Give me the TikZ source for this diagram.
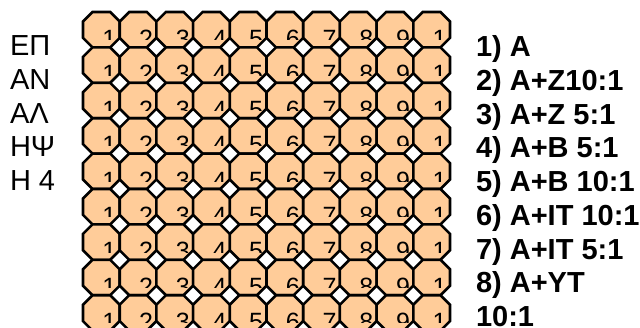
\documentclass[tikz,border=0pt]{standalone}
\usepackage{fontspec}
\setmainfont{Liberation Sans}
\usetikzlibrary{positioning,calc}
\definecolor{cellpeach}{RGB}{255,204,153}

\begin{document}
\begin{tikzpicture}[
  x=1pt,y=-1pt,
  every node/.style={inner sep=0pt,outer sep=0pt},
  oct/.style={draw=black,line width=2.6pt,fill=cellpeach,line join=miter},
  digit/.style={anchor=base,font=\fontsize{25}{25}\selectfont},
  side/.style={anchor=base west,font=\fontsize{29}{34}\selectfont},
  key/.style={anchor=base west,font=\fontsize{29}{34}\selectfont\bfseries},
]
  \useasboundingbox (0,0) rectangle (640,327);

  % Octagon tiles, 9 rows of 10
  \foreach \r in {0,...,8}{
    \foreach \d [count=\k from 0] in {1,2,3,4,5,6,7,8,9,1}{
      \pgfmathsetmacro{\cx}{101.35+36.7*\k}
      \pgfmathsetmacro{\cy}{29.7+35.4*\r}
      \begin{scope}[shift={(\cx,\cy)}]
        \draw[oct] (-8.85,-17.7) -- (8.85,-17.7) -- (18.35,-8.2) -- (18.35,8.2)
          -- (8.85,17.7) -- (-8.85,17.7) -- (-18.35,8.2) -- (-18.35,-8.2) -- cycle;
        % digit, cut off below
        \clip (-18,-17) rectangle (18,10);
        \node[digit] (d-\r-\k) at (8,17.8) {\d};
      \end{scope}
    }
  }

  % Left labels
  \foreach \t [count=\i from 0] in {ΕΠ,ΑΝ,ΑΛ,ΗΨ,Η 4}
    \node[side] (side-\i) at (10,55.5+33.75*\i) {\t};

  % Key on the right
  \foreach \t [count=\i from 0] in {1) A,2) A+Z10:1,3) A+Z 5:1,4) A+B 5:1,
      5) A+B 10:1,6) A+IT 10:1,7) A+IT 5:1,8) A+YT,10:1}
    \node[key] (key-\i) at (476,56.5+33.75*\i) {\t};
\end{tikzpicture}
\end{document}
